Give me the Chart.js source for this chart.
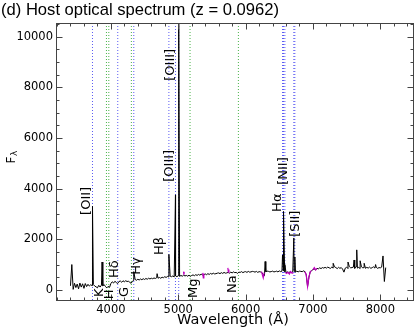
<!DOCTYPE html>
<html><head><meta charset="utf-8">
<script src="https://cdn.jsdelivr.net/npm/chart.js@4/dist/chart.umd.min.js"></script>
<style>html,body{margin:0;padding:0;background:#fff}#wrap{width:415px;height:330px;position:relative}</style>
</head><body><div id="wrap"><canvas id="c"></canvas></div>
<script>
const titleText = '(d) Host optical spectrum (z = 0.0962)';
const xTitle = 'Wavelength (Å)';
const yTitleMain = 'F';
const yTitleSub = 'λ';
const xTickValues = [4000, 5000, 6000, 7000, 8000];
const yTickValues = [0, 2000, 4000, 6000, 8000, 10000];
const xRange = [3200, 8500];
const yRange = [-400, 10500];

// spectrum sampled every 20 Å starting at 3400 Å
const waveStart = 3400, waveStep = 20;
const flux = [
  160, 1000, 20, 260, 90, 230, 40, 270, 110, 240,
  60, 250, 130, 220, 150, 200, 170, 210, 150, 120,
  80, 180, 110, 190, 160, 210, 130, 80, 140, 100,
  250, 320, 270, 340, 290, 250, 330, 350, 300, 360,
  320, 360, 330, 340, 300, 260, 340, 380, 410, 380,
  420, 390, 430, 400, 440, 410, 450, 420, 460, 430,
  460, 440, 470, 450, 480, 460, 490, 460, 500, 480,
  520, 490, 530, 510, 540, 520, 550, 510, 550, 520,
  560, 530, 570, 540, 580, 550, 570, 540, 580, 530,
  570, 590, 560, 600, 570, 610, 580, 620, 590, 600,
  630, 600, 640, 610, 650, 620, 660, 630, 640, 660,
  670, 640, 680, 650, 690, 660, 670, 690, 660, 700,
  670, 710, 680, 690, 650, 700, 690, 720, 680, 710,
  720, 690, 730, 700, 710, 730, 720, 700, 730, 690,
  720, 710, 690, 600, 560, 720, 740, 730, 710, 720,
  740, 710, 720, 740, 710, 750, 720, 740, 750, 710,
  680, 710, 670, 720, 680, 710, 730, 700, 740, 710,
  740, 730, 720, 750, 720, 600, 130, 500, 720, 760,
  800, 820, 790, 850, 830, 870, 840, 880, 860, 890,
  860, 900, 870, 850, 900, 860, 910, 880, 840, 890,
  850, 880, 820, 700, 860, 900, 840, 920, 870, 880,
  900, 850, 920, 860, 890, 840, 910, 870, 880, 850,
  890, 860, 900, 850, 880, 910, 860, 890, 850, 880,
  870, 900, 1340, 330, 880
];
// narrow emission features / spikes
const spikeWaves = [3727, 3869, 4340, 4686, 4861, 4959, 5007, 6290, 6548, 6563, 6583, 6716, 6731, 7300, 7520, 7610, 7650, 7700, 7760, 7930];
const spikePeaks = [3300, 1100, 720, 640, 1400, 3750, 11000, 1120, 1380, 3100, 1000, 2050, 1300, 1050, 1100, 1180, 1580, 1150, 1050, 1000];

// masked (sky / telluric) regions drawn in magenta; null = break
const maskWaves = [5078, 5084, 5090, null, 5364, 5372, 5380, null, 5736, 5744, 5752, null, 6236, 6250, 6262, 6276, null,
  6590, 6610, 6630, 6650, 6670, 6690, 6700, null, 6880, 6900, 6920, 6940, 6960, 6980, null, 7000, 7020, 7040, 7060];
const maskFlux = [720, 600, 700, null, 670, 470, 640, null, 870, 700, 800, null, 720, 580, 470, 680, null,
  690, 650, 700, 620, 720, 660, 700, null, 720, 600, 130, 500, 720, 760, null, 800, 880, 790, 850];

// marker lines (rest frame)
const emissionWaves = [3727, 4102, 4340, 4861, 4959, 5007, 6548, 6563, 6583, 6716, 6731];
const absorptionWaves = [3934, 3969, 4304, 5175, 5893];

// line labels: text, anchor wavelength, anchor flux (bottom of rotated text)
const labelTexts = ['[OII]', 'K', 'H', 'Hδ', 'G', 'Hγ', 'Hβ', '[OIII]', '[OIII]', 'Mg', 'Na', 'Hα', '[NII]', '[SII]'];
const labelWaves = [3633, 3840, 3981, 4062, 4210, 4388, 4728, 4876, 4883, 5231, 5808, 6473, 6562, 6740];
const labelFlux  = [2960, -280, -370, 470, -280, 600, 1380, 4270, 8260, -320, -120, 3080, 4150, 2100];

// ---- build datasets ----
const specPts = flux.map((f, i) => ({x: waveStart + i * waveStep, y: f}))
  .concat(spikeWaves.map((w, i) => ({x: w, y: spikePeaks[i]})))
  .sort((a, b) => a.x - b.x);
const maskPts = maskWaves.map((w, i) => ({x: w === null ? NaN : w, y: maskFlux[i] === null ? NaN : maskFlux[i]}));

const datasets = [];
datasets.push({data: maskPts, borderColor: '#c000c0', borderWidth: 1.2, pointRadius: 0, spanGaps: false, order: 0});
datasets.push({data: specPts, borderColor: '#000', borderWidth: 1, pointRadius: 0, order: 1});
emissionWaves.forEach(w => datasets.push({data: [{x: w, y: yRange[0]}, {x: w, y: yRange[1]}],
  borderColor: 'rgba(50,50,240,0.8)', borderWidth: 1, borderDash: [1, 2], pointRadius: 0, order: 2}));
absorptionWaves.forEach(w => datasets.push({data: [{x: w, y: yRange[0]}, {x: w, y: yRange[1]}],
  borderColor: 'rgba(30,160,30,0.8)', borderWidth: 1, borderDash: [1, 2], pointRadius: 0, order: 2}));

const decor = {
  id: 'decor',
  afterDraw(chart) {
    const ctx = chart.ctx, a = chart.chartArea, xs = chart.scales.x, ys = chart.scales.y;
    const L = Math.round(a.left) - 0.5, R = Math.round(a.right) - 0.5, T = Math.round(a.top) - 0.5, B = Math.round(a.bottom) + 0.5;
    ctx.save();
    ctx.strokeStyle = '#444'; ctx.lineWidth = 1;
    ctx.strokeRect(L, T, R - L, B - T);
    // inward ticks
    ctx.beginPath();
    for (let v = 3200; v <= 8500; v += 200) {
      const px = Math.round(xs.getPixelForValue(v)) + 0.5;
      const len = xTickValues.includes(v) ? 6 : 3;
      ctx.moveTo(px, B); ctx.lineTo(px, B - len);
      ctx.moveTo(px, T); ctx.lineTo(px, T + len);
    }
    for (let v = 0; v <= 10500; v += 500) {
      const py = Math.round(ys.getPixelForValue(v)) + 0.5;
      const len = yTickValues.includes(v) ? 6 : 3;
      ctx.moveTo(L, py); ctx.lineTo(L + len, py);
      ctx.moveTo(R, py); ctx.lineTo(R - len, py);
    }
    ctx.stroke();
    // line labels
    ctx.fillStyle = '#000';
    ctx.font = '13px "DejaVu Sans"';
    ctx.textAlign = 'left'; ctx.textBaseline = 'middle';
    labelTexts.forEach((t, i) => {
      const px = xs.getPixelForValue(labelWaves[i]), py = ys.getPixelForValue(labelFlux[i]);
      ctx.save(); ctx.translate(px, py); ctx.rotate(-Math.PI / 2); ctx.fillText(t, 0, 0); ctx.restore();
    });
    // title
    ctx.textBaseline = 'alphabetic';
    ctx.font = '16.6px "Liberation Sans"';
    ctx.fillText(titleText, 1, 14.5);
    // x title
    ctx.font = '14.5px "DejaVu Sans"';
    ctx.textAlign = 'center';
    ctx.fillText(xTitle, 233, 324);
    // y title
    ctx.save(); ctx.translate(15, 163.5); ctx.rotate(-Math.PI / 2);
    ctx.textAlign = 'left';
    ctx.font = '12px "DejaVu Sans"';
    ctx.fillText(yTitleMain, 0, 0);
    const w = ctx.measureText(yTitleMain).width;
    ctx.font = '9px "DejaVu Sans"';
    ctx.fillText(yTitleSub, w + 0.5, 2);
    ctx.restore();
    ctx.restore();
  }
};

new Chart(document.getElementById('c'), {
  type: 'line',
  data: {datasets},
  options: {
    responsive: true, maintainAspectRatio: false, animation: false, devicePixelRatio: 1,
    layout: {padding: {top: 24, right: 1, left: 0, bottom: 0}},
    plugins: {legend: {display: false}, tooltip: {enabled: false}},
    elements: {line: {tension: 0}},
    scales: {
      x: {type: 'linear', min: xRange[0], max: xRange[1],
        afterFit: s => { s.height = 30; },
        afterBuildTicks: s => { s.ticks = xTickValues.map(v => ({value: v})); },
        grid: {display: false, drawTicks: false}, border: {display: false},
        ticks: {color: '#000', padding: 3, autoSkip: false, maxRotation: 0, callback: v => String(v),
          font: {family: 'DejaVu Sans', size: 11.5}}},
      y: {type: 'linear', min: yRange[0], max: yRange[1],
        afterFit: s => { s.width = 57; },
        afterBuildTicks: s => { s.ticks = yTickValues.map(v => ({value: v})); },
        grid: {display: false, drawTicks: false}, border: {display: false},
        ticks: {color: '#000', padding: 4, autoSkip: false, callback: v => String(v),
          font: {family: 'DejaVu Sans', size: 11.5}}}
    }
  },
  plugins: [decor]
});
</script></body></html>
